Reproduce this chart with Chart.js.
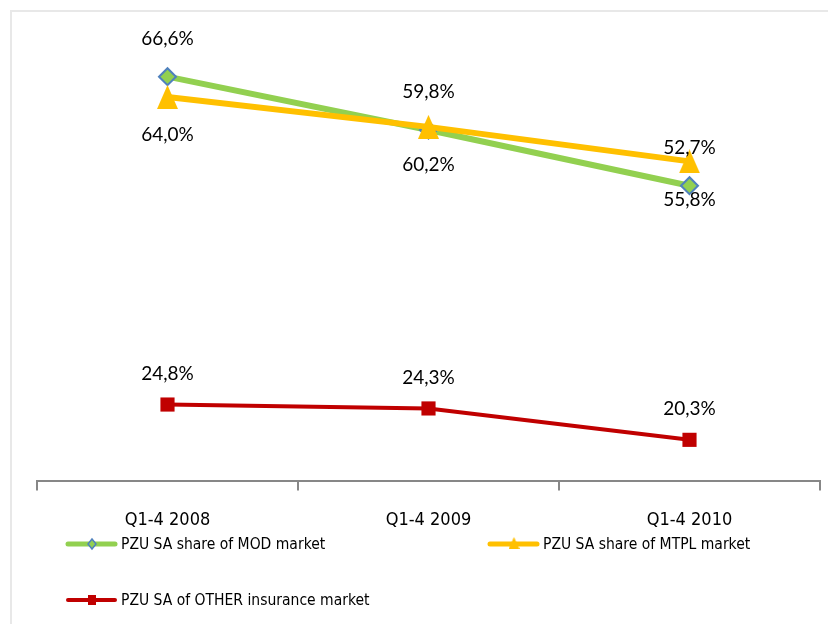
<!DOCTYPE html>
<html>
<head>
<meta charset="utf-8">
<script src="https://cdn.jsdelivr.net/npm/chart.js@4.4.1/dist/chart.umd.min.js"></script>
<style>
  html, body { margin: 0; padding: 0; background: #fff; }
  #wrap { position: relative; width: 828px; height: 624px; }
</style>
</head>
<body>
<div id="wrap"><canvas id="share-chart" width="828" height="624"></canvas></div>
<script>
var periods = ["Q1-4 2008", "Q1-4 2009", "Q1-4 2010"];
var modShare = [66.6, 59.8, 52.7];
var mtplShare = [64.0, 60.2, 55.8];
var otherShare = [24.8, 24.3, 20.3];

var seriesNames = [
  "PZU SA share of MOD market",
  "PZU SA share of MTPL market",
  "PZU SA of OTHER insurance market"
];

var GREEN = "#92D050";
var ORANGE = "#FFC000";
var RED = "#C00000";
var BLUE = "#4F81BD";
var AXIS = "#878787";
var NARROW = "'Liberation Sans Narrow', 'Arial Narrow', 'DejaVu Sans Condensed', sans-serif";

function pct(v) {
  return v.toFixed(1).replace(".", ",") + "%";
}

// excel style triangle marker (taller than chart.js' own)
function triangleMarker(w, h) {
  var c = document.createElement("canvas");
  c.width = w;
  c.height = h;
  var g = c.getContext("2d");
  g.fillStyle = ORANGE;
  g.beginPath();
  g.moveTo(w / 2, 0);
  g.lineTo(w, h);
  g.lineTo(0, h);
  g.closePath();
  g.fill();
  return c;
}

var bigTriangle = triangleMarker(21, 24);
var smallTriangle = triangleMarker(11, 12);

/* ── data labels: MOD above, MTPL below, OTHER above ── */
var labelOffsets = [-38, 38, -31];

var valueLabels = {
  id: "valueLabels",
  afterDatasetsDraw: function (chart) {
    var ctx = chart.ctx;
    ctx.save();
    ctx.font = "19px Lato";
    ctx.fillStyle = "#000";
    ctx.textAlign = "center";
    ctx.textBaseline = "middle";
    chart.data.datasets.forEach(function (ds, di) {
      var meta = chart.getDatasetMeta(di);
      meta.data.forEach(function (pt, i) {
        ctx.fillText(pct(ds.data[i]), pt.x, pt.y + labelOffsets[di]);
      });
    });
    ctx.restore();
  }
};

/* ── frame + legend ── */
var legendSpots = [[68, 544], [490, 544], [68, 600]];

var frameLegend = {
  id: "frameLegend",
  beforeDraw: function (chart) {
    var ctx = chart.ctx;
    ctx.save();
    ctx.fillStyle = "#fff";
    ctx.fillRect(0, 0, chart.width, chart.height);
    ctx.strokeStyle = "#e8e8e8";
    ctx.lineWidth = 2;
    ctx.beginPath();
    ctx.moveTo(11, chart.height);
    ctx.lineTo(11, 11);
    ctx.lineTo(chart.width, 11);
    ctx.stroke();
    ctx.restore();
  },
  afterDraw: function (chart) {
    var ctx = chart.ctx;
    ctx.save();
    chart.data.datasets.forEach(function (ds, di) {
      var x = legendSpots[di][0], y = legendSpots[di][1];
      ctx.strokeStyle = ds.borderColor;
      ctx.lineWidth = di === 2 ? 4 : 5;
      ctx.lineCap = "round";
      ctx.beginPath();
      ctx.moveTo(x, y);
      ctx.lineTo(x + 47, y);
      ctx.stroke();
      var mx = x + 24;
      if (di === 0) {
        ctx.fillStyle = GREEN;
        ctx.strokeStyle = BLUE;
        ctx.lineWidth = 1.5;
        ctx.beginPath();
        ctx.moveTo(mx, y - 5);
        ctx.lineTo(mx + 4, y);
        ctx.lineTo(mx, y + 5);
        ctx.lineTo(mx - 4, y);
        ctx.closePath();
        ctx.fill();
        ctx.stroke();
      } else if (di === 1) {
        ctx.drawImage(smallTriangle, mx - 5.5, y - 7);
      } else {
        ctx.fillStyle = RED;
        ctx.fillRect(mx - 4, y - 5, 8, 10);
      }
      ctx.fillStyle = "#000";
      ctx.font = "15.5px " + NARROW;
      ctx.textAlign = "left";
      ctx.textBaseline = "middle";
      ctx.fillText(seriesNames[di], x + 53, y + 1);
    });
    ctx.restore();
  }
};

var ctx = document.getElementById("share-chart").getContext("2d");

new Chart(ctx, {
  type: "line",
  data: {
    labels: periods,
    datasets: [
      {
        label: seriesNames[0],
        data: modShare,
        borderColor: GREEN,
        borderWidth: 6,
        pointStyle: "rectRot",
        pointRadius: 8.5,
        pointBackgroundColor: GREEN,
        pointBorderColor: BLUE,
        pointBorderWidth: 2,
        tension: 0,
        clip: false,
        order: 2
      },
      {
        label: seriesNames[1],
        data: mtplShare,
        borderColor: ORANGE,
        borderWidth: 6,
        pointStyle: bigTriangle,
        pointRadius: 12,
        pointBackgroundColor: ORANGE,
        tension: 0,
        clip: false,
        order: 1
      },
      {
        label: seriesNames[2],
        data: otherShare,
        borderColor: RED,
        borderWidth: 4,
        pointStyle: "rect",
        pointRadius: 10,
        pointBackgroundColor: RED,
        pointBorderColor: RED,
        pointBorderWidth: 0,
        tension: 0,
        clip: false,
        order: 3
      }
    ]
  },
  options: {
    responsive: false,
    animation: false,
    events: [],
    layout: { autoPadding: false, padding: { left: 37, right: 8, top: 50, bottom: 74 } },
    plugins: {
      legend: { display: false },
      tooltip: { enabled: false }
    },
    scales: {
      x: {
        offset: true,
        grid: {
          offset: true,
          drawOnChartArea: false,
          drawTicks: true,
          tickLength: 9,
          color: AXIS,
          lineWidth: 2
        },
        border: { display: true, color: AXIS, width: 2 },
        ticks: {
          color: "#000",
          padding: 19,
          font: { family: NARROW, size: 18 }
        }
      },
      y: {
        display: false,
        min: 15,
        max: 70
      }
    }
  },
  plugins: [frameLegend, valueLabels]
});
</script>
</body>
</html>
